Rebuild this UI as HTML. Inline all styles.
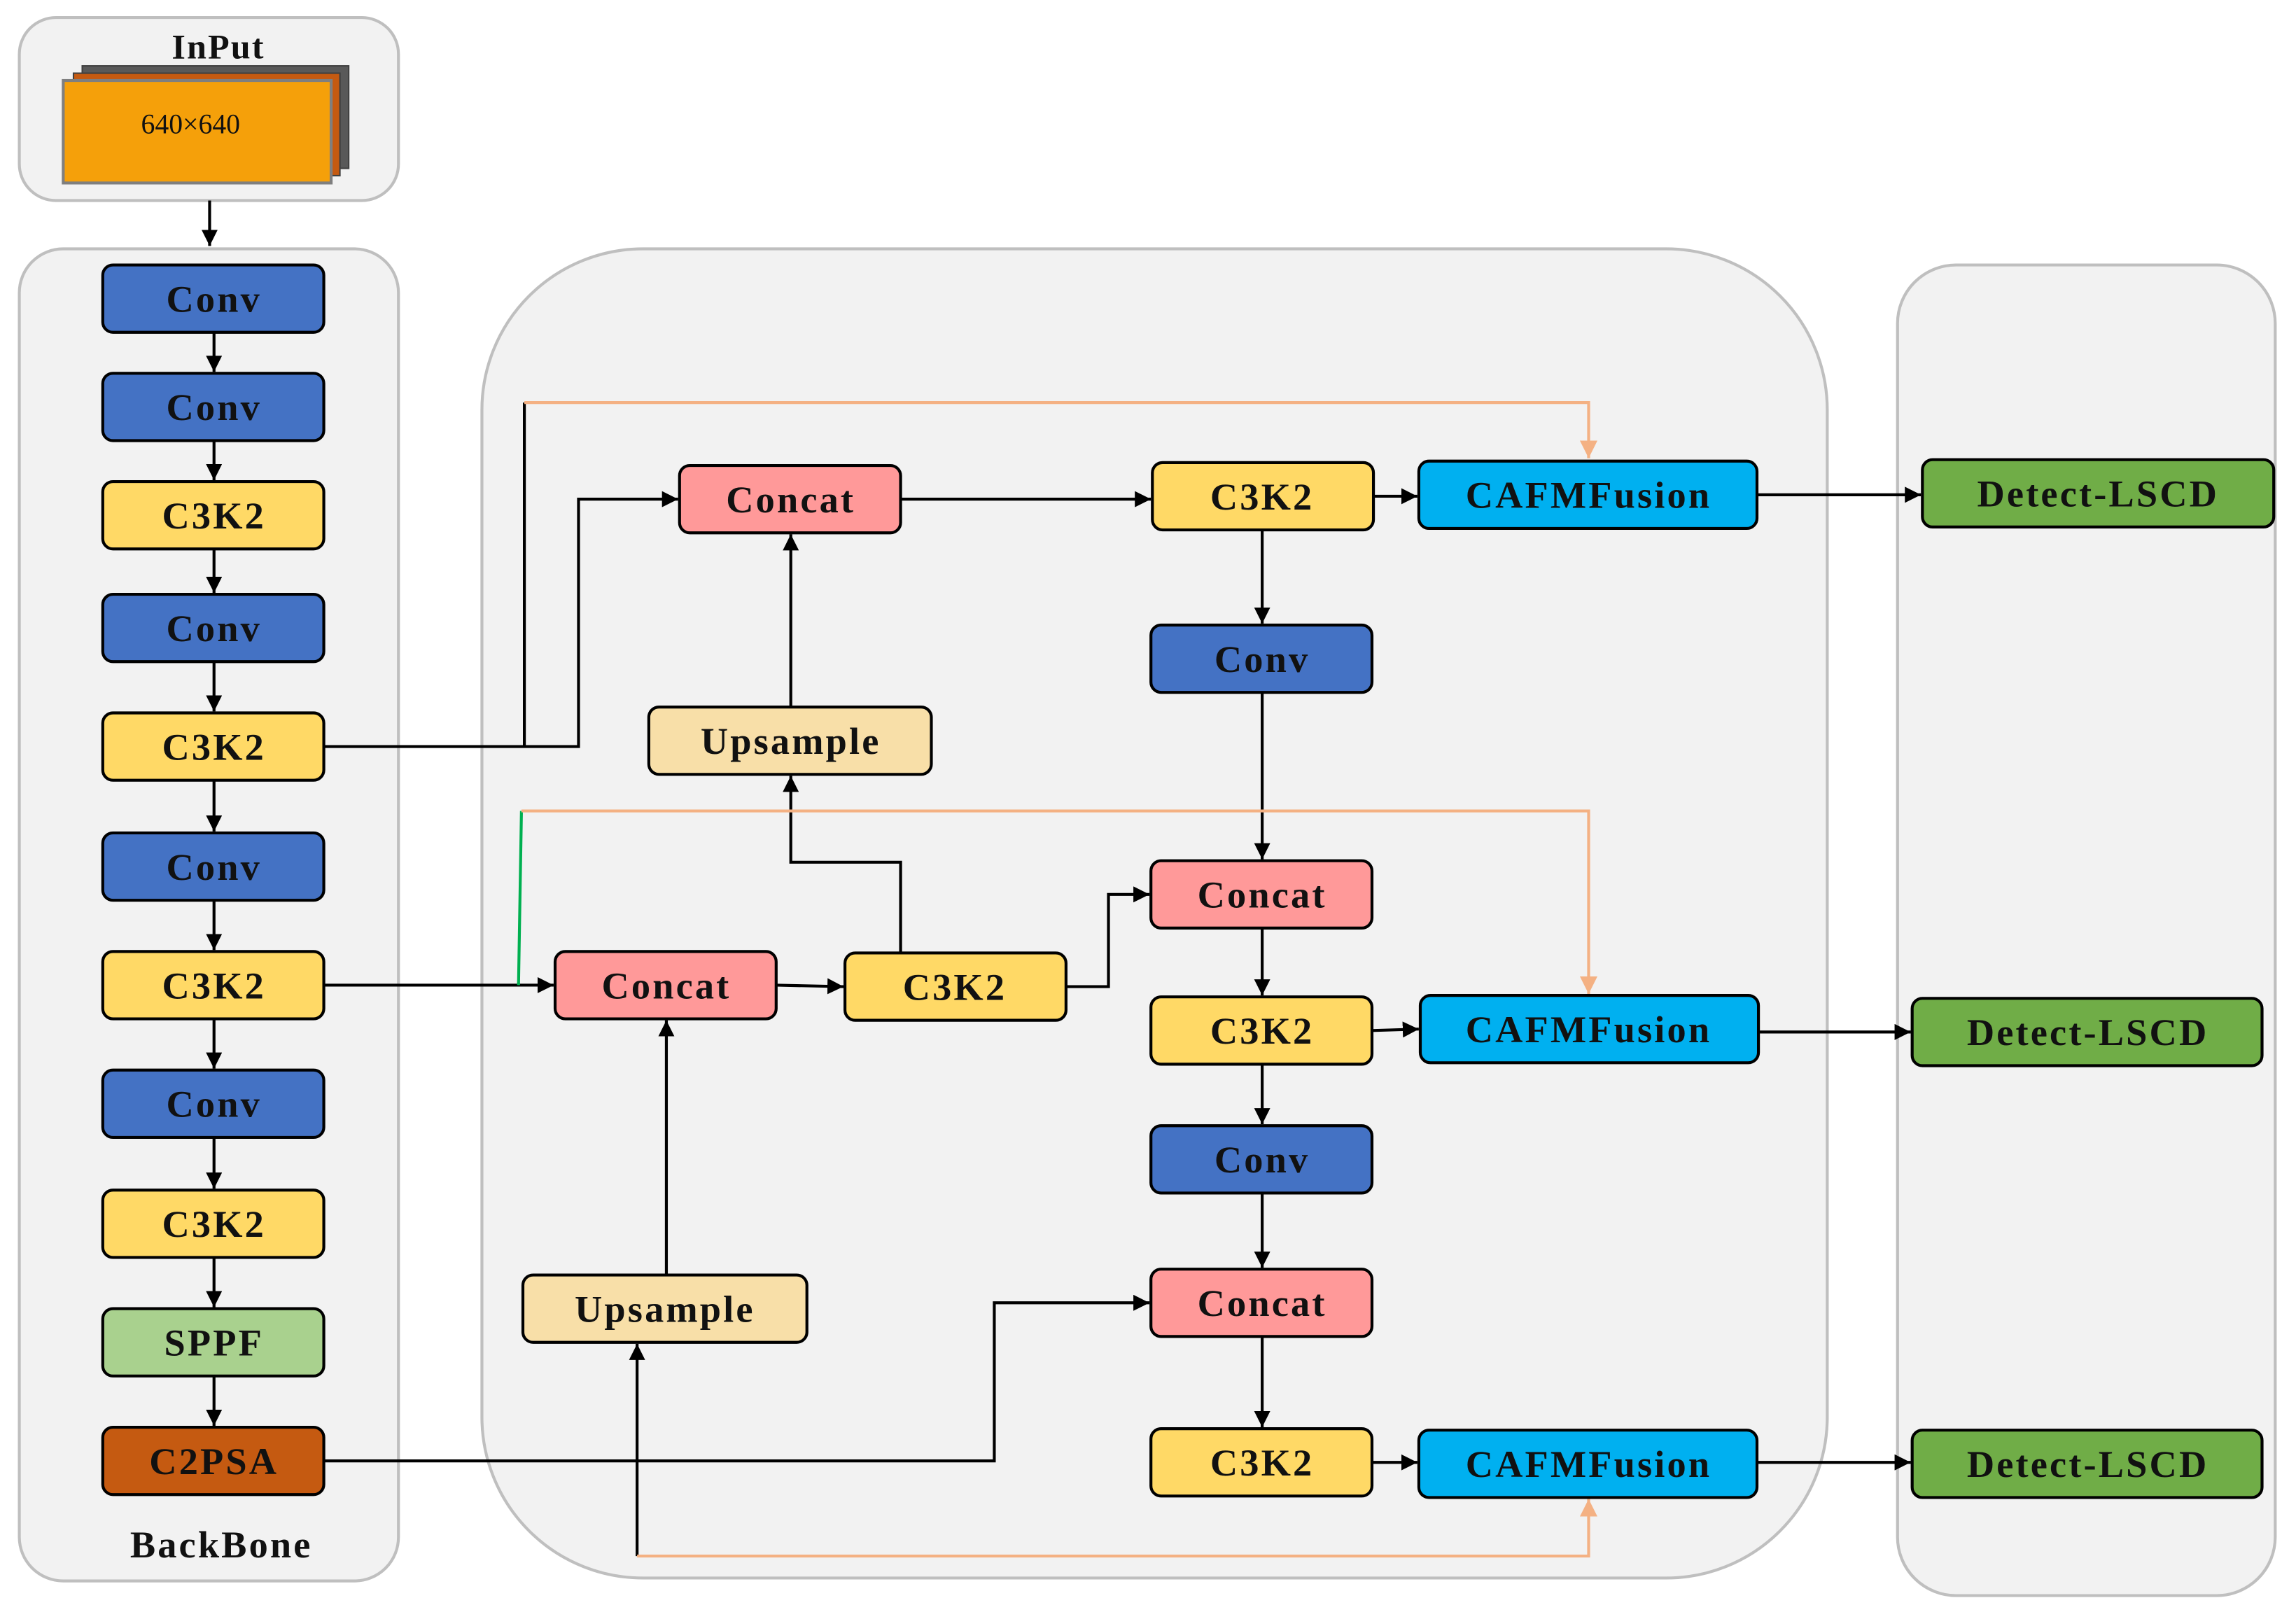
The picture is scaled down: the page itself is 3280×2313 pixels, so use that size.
<!DOCTYPE html>
<html><head><meta charset="utf-8"><style>
html,body{margin:0;padding:0;background:#fff;}
svg{display:block;}
text{font-family:"Liberation Serif",serif;font-weight:bold;fill:#111;}
</style></head><body>
<svg width="3280" height="2313" viewBox="0 0 1568 1106" xmlns="http://www.w3.org/2000/svg">
<defs>
<marker id="a" viewBox="0 0 10 10" refX="10" refY="5" markerWidth="5.5" markerHeight="5.5" orient="auto"><path d="M0,0L10,5L0,10z" fill="#000"/></marker>
<marker id="o" viewBox="0 0 10 10" refX="10" refY="5" markerWidth="6" markerHeight="6" orient="auto"><path d="M0,0L10,5L0,10z" fill="#f4b183"/></marker>
</defs>
<rect x="13" y="12" width="259" height="125" rx="25" fill="#f2f2f2" stroke="#bfbfbf" stroke-width="2"/>
<rect x="13" y="170" width="259" height="910" rx="30" fill="#f2f2f2" stroke="#bfbfbf" stroke-width="2"/>
<rect x="329" y="170" width="919" height="908" rx="110" fill="#f2f2f2" stroke="#bfbfbf" stroke-width="2"/>
<rect x="1296" y="181" width="258" height="909" rx="40" fill="#f2f2f2" stroke="#bfbfbf" stroke-width="2"/>
<text x="149" y="40" font-size="24" text-anchor="middle" letter-spacing="1">InPut</text>
<rect x="56" y="45" width="182" height="70" fill="#595959" stroke="#404040"/>
<rect x="50" y="50" width="182" height="70" fill="#c55a11" stroke="#404040"/>
<rect x="43" y="55" width="183" height="70" fill="#f5a00a" stroke="#7f7f7f" stroke-width="2"/>
<text x="130" y="91" font-size="19" text-anchor="middle" style="font-weight:normal">640×640</text>
<line x1="143" y1="137" x2="143" y2="168" stroke="#000" stroke-width="2" marker-end="url(#a)"/>
<g stroke="#000" stroke-width="2">
<rect x="70" y="181" width="151" height="46" rx="7" fill="#4472c4"/>
<rect x="70" y="255" width="151" height="46" rx="7" fill="#4472c4"/>
<rect x="70" y="329" width="151" height="46" rx="7" fill="#ffd966"/>
<rect x="70" y="406" width="151" height="46" rx="7" fill="#4472c4"/>
<rect x="70" y="487" width="151" height="46" rx="7" fill="#ffd966"/>
<rect x="70" y="569" width="151" height="46" rx="7" fill="#4472c4"/>
<rect x="70" y="650" width="151" height="46" rx="7" fill="#ffd966"/>
<rect x="70" y="731" width="151" height="46" rx="7" fill="#4472c4"/>
<rect x="70" y="813" width="151" height="46" rx="7" fill="#ffd966"/>
<rect x="70" y="894" width="151" height="46" rx="7" fill="#a9d18e"/>
<rect x="70" y="975" width="151" height="46" rx="7" fill="#c55a11"/>
<rect x="464" y="318" width="151" height="46" rx="7" fill="#ff9999"/>
<rect x="787" y="316" width="151" height="46" rx="7" fill="#ffd966"/>
<rect x="969" y="315" width="231" height="46" rx="7" fill="#00b0f0"/>
<rect x="786" y="427" width="151" height="46" rx="7" fill="#4472c4"/>
<rect x="443" y="483" width="193" height="46" rx="7" fill="#f8dfa8"/>
<rect x="786" y="588" width="151" height="46" rx="7" fill="#ff9999"/>
<rect x="379" y="650" width="151" height="46" rx="7" fill="#ff9999"/>
<rect x="577" y="651" width="151" height="46" rx="7" fill="#ffd966"/>
<rect x="786" y="681" width="151" height="46" rx="7" fill="#ffd966"/>
<rect x="970" y="680" width="231" height="46" rx="7" fill="#00b0f0"/>
<rect x="786" y="769" width="151" height="46" rx="7" fill="#4472c4"/>
<rect x="357" y="871" width="194" height="46" rx="7" fill="#f8dfa8"/>
<rect x="786" y="867" width="151" height="46" rx="7" fill="#ff9999"/>
<rect x="786" y="976" width="151" height="46" rx="7" fill="#ffd966"/>
<rect x="969" y="977" width="231" height="46" rx="7" fill="#00b0f0"/>
<rect x="1313" y="314" width="240" height="46" rx="7" fill="#70ad47"/>
<rect x="1306" y="682" width="239" height="46" rx="7" fill="#70ad47"/>
<rect x="1306" y="977" width="239" height="46" rx="7" fill="#70ad47"/>
</g>
<g font-size="26" text-anchor="middle" letter-spacing="1.5">
<text x="146" y="213">Conv</text><text x="146" y="287">Conv</text><text x="146" y="361">C3K2</text>
<text x="146" y="438">Conv</text><text x="146" y="519">C3K2</text><text x="146" y="601">Conv</text>
<text x="146" y="682">C3K2</text><text x="146" y="763">Conv</text><text x="146" y="845">C3K2</text>
<text x="146" y="926">SPPF</text><text x="146" y="1007">C2PSA</text>
<text x="151" y="1064">BackBone</text>
<text x="540" y="350">Concat</text><text x="862" y="348">C3K2</text><text x="1085" y="347">CAFMFusion</text>
<text x="862" y="459">Conv</text><text x="540" y="515">Upsample</text><text x="862" y="620">Concat</text>
<text x="455" y="682">Concat</text><text x="652" y="683">C3K2</text><text x="862" y="713">C3K2</text>
<text x="1085" y="712">CAFMFusion</text><text x="862" y="801">Conv</text><text x="454" y="903">Upsample</text>
<text x="862" y="899">Concat</text><text x="862" y="1008">C3K2</text><text x="1085" y="1009">CAFMFusion</text>
<text x="1433" y="346">Detect-LSCD</text><text x="1426" y="714">Detect-LSCD</text><text x="1426" y="1009">Detect-LSCD</text>
</g>
<g stroke="#000" stroke-width="2" fill="none" marker-end="url(#a)">
<line x1="146" y1="227" x2="146" y2="254"/><line x1="146" y1="301" x2="146" y2="328"/>
<line x1="146" y1="375" x2="146" y2="405"/><line x1="146" y1="452" x2="146" y2="486"/>
<line x1="146" y1="533" x2="146" y2="568"/><line x1="146" y1="615" x2="146" y2="649"/>
<line x1="146" y1="696" x2="146" y2="730"/><line x1="146" y1="777" x2="146" y2="812"/>
<line x1="146" y1="859" x2="146" y2="893"/><line x1="146" y1="940" x2="146" y2="974"/>
<polyline points="221,510 395,510 395,341 463,341"/>
<line x1="540" y1="483" x2="540" y2="365"/>
<line x1="615" y1="341" x2="786" y2="341"/>
<line x1="938" y1="339" x2="968" y2="339"/>
<line x1="1200" y1="338" x2="1312" y2="338"/>
<line x1="862" y1="362" x2="862" y2="426"/>
<line x1="862" y1="473" x2="862" y2="587"/>
<line x1="221" y1="673" x2="378" y2="673"/>
<line x1="530" y1="673" x2="576" y2="674"/>
<polyline points="615,651 615,589 540,589 540,530"/>
<polyline points="728,674 757,674 757,611 785,611"/>
<line x1="862" y1="634" x2="862" y2="680"/>
<line x1="937" y1="704" x2="969" y2="703"/>
<line x1="1201" y1="705" x2="1305" y2="705"/>
<line x1="862" y1="727" x2="862" y2="768"/>
<line x1="862" y1="815" x2="862" y2="866"/>
<polyline points="221,998 679,998 679,890 785,890"/>
<line x1="862" y1="913" x2="862" y2="975"/>
<line x1="937" y1="999" x2="968" y2="999"/>
<line x1="1200" y1="999" x2="1305" y2="999"/>
<line x1="455" y1="871" x2="455" y2="697"/>
<line x1="435" y1="1063" x2="435" y2="918"/>
</g>
<line x1="358" y1="510" x2="358" y2="275" stroke="#000" stroke-width="2"/>
<line x1="354" y1="673" x2="356" y2="554" stroke="#00b050" stroke-width="2"/>
<g stroke="#f4b183" stroke-width="2" fill="none" marker-end="url(#o)">
<polyline points="358,275 1085,275 1085,313"/>
<polyline points="356,554 1085,554 1085,679"/>
<polyline points="435,1063 1085,1063 1085,1024"/>
</g>
</svg>
</body></html>
